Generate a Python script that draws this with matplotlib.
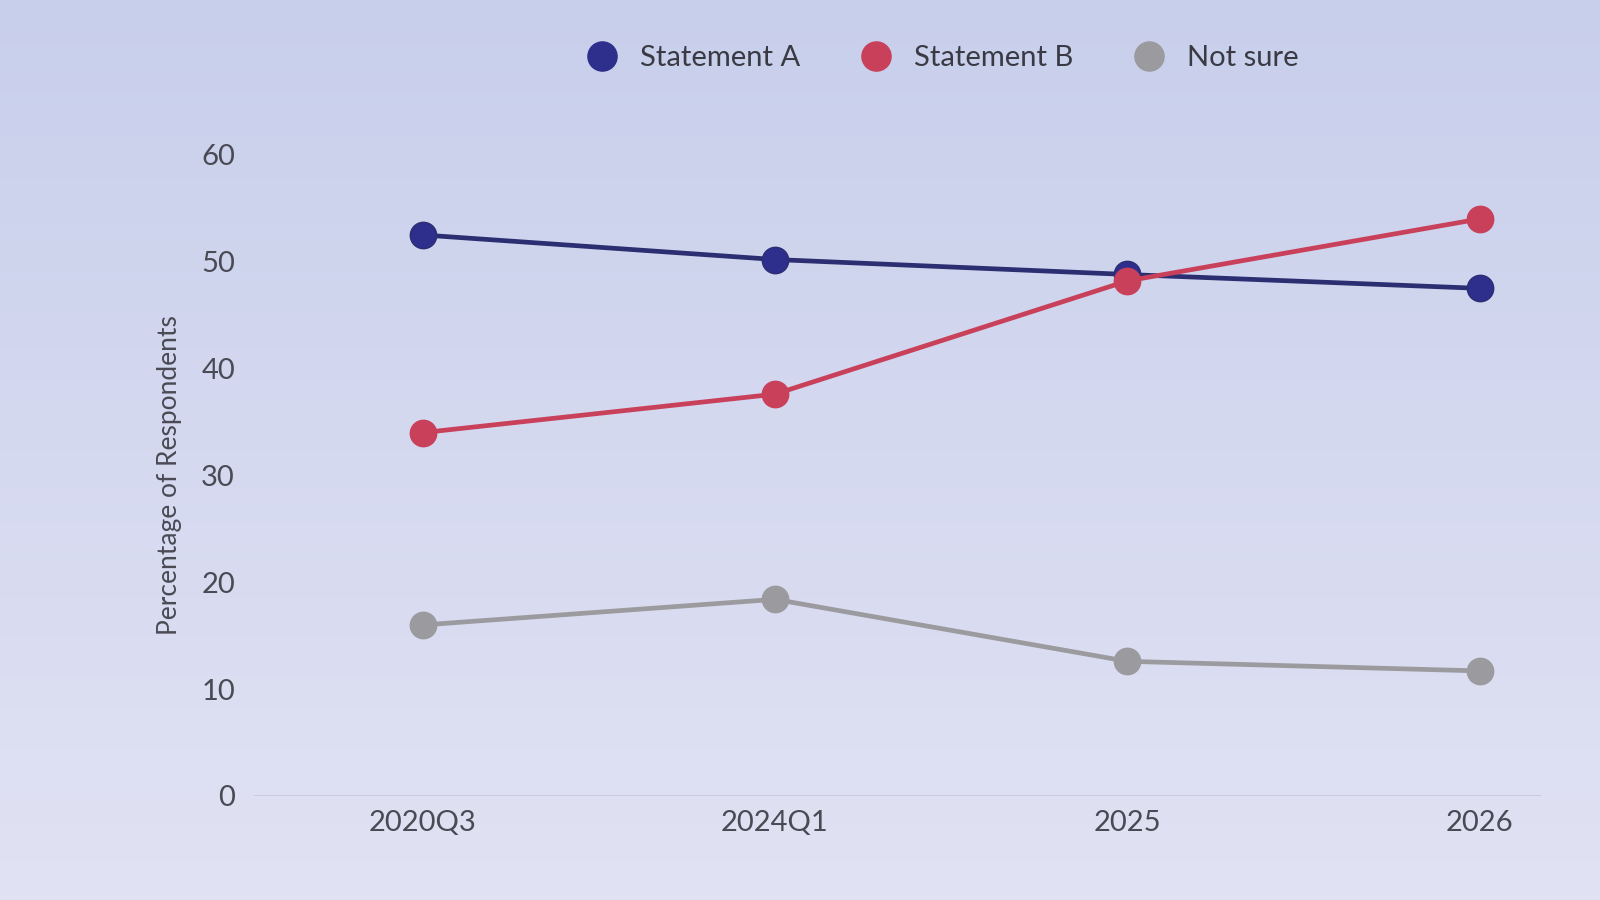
import numpy as np
import matplotlib
matplotlib.use('Agg')
import matplotlib.pyplot as plt
from matplotlib.lines import Line2D
from matplotlib.colors import LinearSegmentedColormap

plt.rcParams['font.family'] = ['Lato', 'DejaVu Sans']

# values
periods = ['2020Q3', '2024Q1', '2025', '2026']
statement_a = [52.5, 50.2, 48.8, 47.5]
statement_b = [34.0, 37.6, 48.2, 54.0]
not_sure = [16.0, 18.4, 12.6, 11.7]
y_ticks = [0, 10, 20, 30, 40, 50, 60]

blue = '#2e2f8c'
blue_line = '#2c2e72'
red = '#c9405b'
gray = '#9b9b9f'
text_col = '#4a4a55'

fig = plt.figure(figsize=(16, 9), dpi=100)

# background: soft lavender gradient like the photographed screen
bg = fig.add_axes([0, 0, 1, 1], zorder=-10)
grad = np.linspace(0, 1, 256).reshape(-1, 1)
cmap = LinearSegmentedColormap.from_list('bg', ['#c8cfeb', '#d5d9f0', '#e1e2f3'])
bg.imshow(grad, aspect='auto', cmap=cmap, extent=[0, 1, 0, 1], origin='upper')
bg.axis('off')

ax = fig.add_axes([0.159, 0.1156, 0.804, 0.7124])
ax.patch.set_alpha(0)
x = np.arange(len(periods))

ax.axhline(0, color='#c6c8da', lw=1.2, zorder=1)

ax.plot(x, not_sure, color=gray, lw=3.4, marker='o', ms=19,
        markerfacecolor=gray, markeredgecolor=gray, clip_on=False, zorder=3)
ax.plot(x, statement_a, color=blue_line, lw=3.4, marker='o', ms=19,
        markerfacecolor=blue, markeredgecolor=blue_line, clip_on=False, zorder=4)
ax.plot(x, statement_b, color=red, lw=3.4, marker='o', ms=19,
        markerfacecolor=red, markeredgecolor=red, clip_on=False, zorder=5)

ax.set_xlim(-0.477, 3.173)
ax.set_ylim(0, 60)
ax.set_xticks(x)
ax.set_xticklabels(periods)
ax.set_yticks(y_ticks)
ax.tick_params(axis='both', length=0, labelsize=21, colors=text_col)
ax.tick_params(axis='y', pad=14)
ax.tick_params(axis='x', pad=10)
for s in ax.spines.values():
    s.set_visible(False)

ax.set_ylabel('Percentage of Respondents', fontsize=19, color=text_col, labelpad=14)

handles = [
    Line2D([], [], ls='none', marker='o', ms=21, color=blue, label='Statement A'),
    Line2D([], [], ls='none', marker='o', ms=21, color=red, label='Statement B'),
    Line2D([], [], ls='none', marker='o', ms=21, color=gray, label='Not sure'),
]
fig.legend(handles=handles, loc='center', bbox_to_anchor=(0.585, 0.935), ncol=3,
           frameon=False, fontsize=21, handletextpad=0.3, columnspacing=1.6,
           labelcolor='#3a3a45')

fig.savefig('out.png', dpi=100)
